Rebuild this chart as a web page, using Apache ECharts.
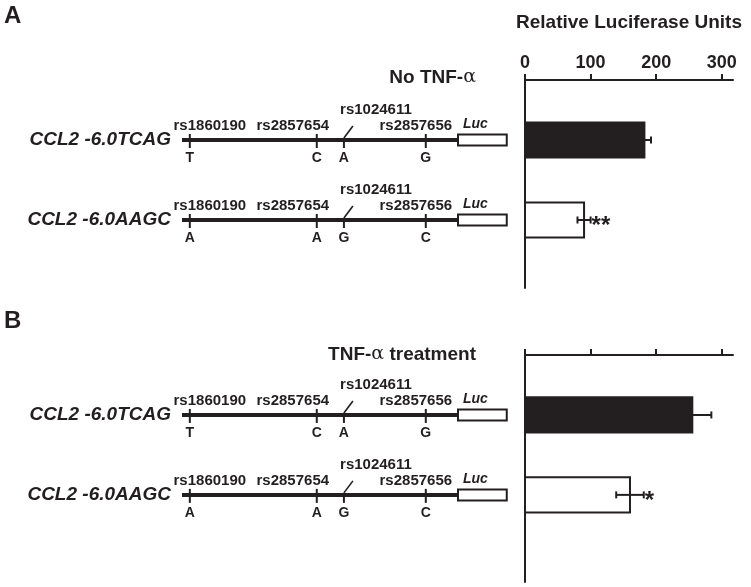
<!DOCTYPE html>
<html lang="en">
<head>
    <meta charset="UTF-8"/>
    <title>CCL2 luciferase</title>
    <script src="https://cdn.jsdelivr.net/npm/echarts@6/dist/echarts.min.js"></script>
</head>
<body style="margin:0;background:#fff">

<div id="main" style="width:751px;height:587px;"></div>

<script type="text/javascript">
    // data
    var constructs = ['CCL2 -6.0TCAG', 'CCL2 -6.0AAGC'];
    var snpIds = ['rs1860190', 'rs2857654', 'rs1024611', 'rs2857656'];
    var snpKb = [-5.83, -3.07, -2.48, -0.70];   // position in the 6 kb promoter
    var alleles = [['T', 'C', 'A', 'G'], ['A', 'A', 'G', 'C']];
    var startKb = -6.0;
    var lucKb = 1.06;

    var rluNoTnf = [182, 90];
    var errNoTnf = [10, 10];
    var sigNoTnf = ['', '**'];

    var rluTnf = [255, 160];
    var errTnf = [29, 21];
    var sigTnf = ['', '*'];

    var xTicks = [0, 100, 200, 300];

    // label placement around each SNP tick (px)
    var labelDx = [20, -24, 32, -10];
    var labelDy = [-14, -14, -30, -14];

    var INK = '#231f20';
    var FONT = 'Liberation Sans, Arial, sans-serif';

    var myChart = echarts.init(document.getElementById('main'));

    function renderConstruct(params, api) {
        var row = api.value(0);
        var k = params.dataIndex;
        var y = api.coord([0, row])[1];
        var xs = api.coord([startKb, row])[0];
        var x0 = api.coord([0, row])[0];
        var xl = api.coord([lucKb, row])[0];
        var kids = [];
        kids.push({type: 'text', style: {text: constructs[k], x: xs - 11, y: y, align: 'right', verticalAlign: 'middle',
            fontSize: 19, fontWeight: 'bold', fontStyle: 'italic', fontFamily: FONT, fill: INK}});
        kids.push({type: 'line', shape: {x1: xs, y1: y, x2: x0, y2: y}, style: {stroke: INK, lineWidth: 4}});
        for (var i = 0; i < snpKb.length; i++) {
            var sx = api.coord([snpKb[i], row])[0];
            var flag = i === 2;
            kids.push({type: 'line', shape: {x1: sx, y1: flag ? y : y - 6, x2: sx, y2: y + 8}, style: {stroke: INK, lineWidth: 2}});
            if (flag) {
                kids.push({type: 'line', shape: {x1: sx, y1: y - 2, x2: sx + 9, y2: y - 14}, style: {stroke: INK, lineWidth: 1.6}});
            }
            kids.push({type: 'text', style: {text: snpIds[i], x: sx + labelDx[i], y: y + labelDy[i], align: 'center', verticalAlign: 'middle',
                fontSize: 15, fontWeight: 'bold', fontFamily: FONT, fill: INK}});
            kids.push({type: 'text', style: {text: alleles[k][i], x: sx, y: y + 18, align: 'center', verticalAlign: 'middle',
                fontSize: 14, fontWeight: 'bold', fontFamily: FONT, fill: INK}});
        }
        kids.push({type: 'rect', shape: {x: x0, y: y - 5.5, width: xl - x0, height: 11}, style: {fill: '#fff', stroke: INK, lineWidth: 2}});
        kids.push({type: 'text', style: {text: 'Luc', x: x0 + 5, y: y - 16, align: 'left', verticalAlign: 'middle',
            fontSize: 14, fontWeight: 'bold', fontStyle: 'italic', fontFamily: FONT, fill: INK}});
        return {type: 'group', children: kids};
    }

    function barRenderer(sigs) {
        return function (params, api) {
            var v = api.value(0), row = api.value(1), err = api.value(2);
            var sig = sigs[params.dataIndex];
            var p0 = api.coord([0, row - 0.22]);
            var p1 = api.coord([v, row + 0.22]);
            var yc = api.coord([0, row])[1];
            var eL = api.coord([v - err, row])[0];
            var eR = api.coord([v + err, row])[0];
            var line = {stroke: INK, lineWidth: 2};
            return {type: 'group', children: [
                {type: 'rect', shape: {x: p0[0], y: p0[1], width: p1[0] - p0[0], height: p1[1] - p0[1]},
                    style: {fill: params.dataIndex === 0 ? INK : '#fff', stroke: INK, lineWidth: 2}},
                {type: 'line', shape: {x1: eL, y1: yc, x2: eR, y2: yc}, style: line},
                {type: 'line', shape: {x1: eL, y1: yc - 3.5, x2: eL, y2: yc + 3.5}, style: line},
                {type: 'line', shape: {x1: eR, y1: yc - 3.5, x2: eR, y2: yc + 3.5}, style: line},
                {type: 'text', style: {text: sig, x: eR + 1, y: yc + 6, align: 'left', verticalAlign: 'middle',
                    fontSize: 24, fontWeight: 'bold', fontFamily: FONT, fill: INK}}
            ]};
        };
    }

    function barData(vals, errs) {
        return vals.map(function (v, i) { return [v, i + 1, errs[i]]; });
    }

    function rightX(gridIndex, showLabels) {
        return {
            gridIndex: gridIndex, type: 'value', position: 'top', min: 0, max: 317,
            name: showLabels ? 'Relative Luciferase Units' : '',
            nameLocation: 'middle', nameGap: 48,
            nameTextStyle: {fontSize: 19, fontWeight: 'bold', color: INK, fontFamily: FONT},
            axisLine: {show: true, onZero: false, lineStyle: {color: INK, width: 2}},
            axisTick: {show: true, customValues: xTicks, length: 6, lineStyle: {color: INK, width: 2}},
            axisLabel: {show: showLabels, customValues: xTicks, margin: 8, fontSize: 18, fontWeight: 'bold', color: INK, fontFamily: FONT},
            splitLine: {show: false}
        };
    }

    function rowY(gridIndex, max, showLine) {
        return {
            gridIndex: gridIndex, type: 'value', inverse: true, min: 0.25, max: max,
            axisLine: {show: showLine, onZero: false, lineStyle: {color: INK, width: 2}},
            axisTick: {show: false}, axisLabel: {show: false}, splitLine: {show: false}
        };
    }

    var leftX = function (gridIndex) {
        return {gridIndex: gridIndex, type: 'value', min: startKb, max: 1.1, show: false};
    };

    var option = {
        animation: false,
        backgroundColor: '#fff',
        title: [
            {text: 'A', left: 4, top: 4, padding: 0, textStyle: {fontSize: 24, fontWeight: 'bold', color: INK, fontFamily: FONT}},
            {text: 'B', left: 4, top: 309, padding: 0, textStyle: {fontSize: 24, fontWeight: 'bold', color: INK, fontFamily: FONT}},
            {text: 'No TNF-{a|α}', right: 275, top: 68, padding: 0,
                textStyle: {fontSize: 19, fontWeight: 'bold', color: INK, fontFamily: FONT,
                    rich: {a: {fontSize: 19, fontWeight: 'normal', color: INK, fontFamily: 'DejaVu Serif'}}}},
            {text: 'TNF-{a|α} treatment', right: 275, top: 345, padding: 0,
                textStyle: {fontSize: 19, fontWeight: 'bold', color: INK, fontFamily: FONT,
                    rich: {a: {fontSize: 19, fontWeight: 'normal', color: INK, fontFamily: 'DejaVu Serif'}}}}
        ],
        grid: [
            {left: 182, top: 80, width: 326.6, height: 208},
            {left: 525, top: 80, width: 208, height: 208},
            {left: 182, top: 355, width: 326.6, height: 227},
            {left: 525, top: 355, width: 208, height: 227}
        ],
        xAxis: [leftX(0), rightX(1, true), leftX(2), rightX(3, false)],
        yAxis: [rowY(0, 2.85, false), rowY(1, 2.85, true), rowY(2, 3.09, false), rowY(3, 3.09, true)],
        series: [
            {type: 'custom', xAxisIndex: 0, yAxisIndex: 0, renderItem: renderConstruct,
                data: constructs.map(function (c, i) { return [i + 1]; })},
            {type: 'custom', xAxisIndex: 1, yAxisIndex: 1, renderItem: barRenderer(sigNoTnf),
                data: barData(rluNoTnf, errNoTnf)},
            {type: 'custom', xAxisIndex: 2, yAxisIndex: 2, renderItem: renderConstruct,
                data: constructs.map(function (c, i) { return [i + 1]; })},
            {type: 'custom', xAxisIndex: 3, yAxisIndex: 3, renderItem: barRenderer(sigTnf),
                data: barData(rluTnf, errTnf)}
        ]
    };

    myChart.setOption(option);
</script>
</body>
</html>
